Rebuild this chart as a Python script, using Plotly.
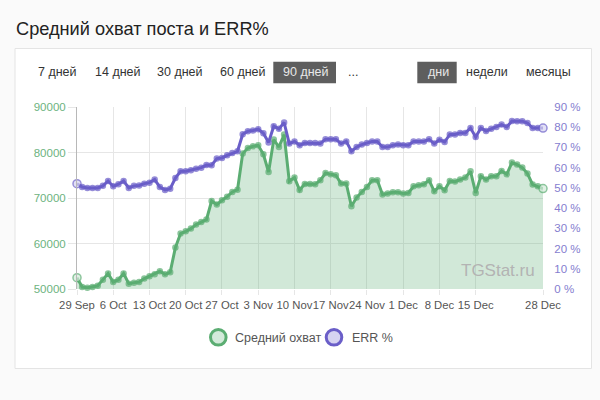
import pandas as pd
import plotly.graph_objects as go

# ---------------- data ----------------
dates = pd.date_range("2023-09-29", "2023-12-28", freq="D")

reach = [
    52500, 50440, 50300, 50440, 50700, 52060, 53400, 51540, 52050, 53400,
    51180, 51400, 51550, 52290, 52800, 53230, 53890, 53230, 53700, 59100,
    62180, 62680, 63270, 64150, 64730, 65250, 69340, 68550, 69500, 70300,
    71320, 71840, 79760, 81000, 81360, 81580, 79600, 75710, 82830, 81200,
    83930, 73670, 74480, 71740, 73100, 73100, 73000, 73890, 75490, 75200,
    75000, 73160, 73200, 68180, 70090, 71320, 72420, 73890, 73890, 70750,
    70970, 71250, 71250, 70970, 71100, 72570, 72790, 73010, 73890, 71470,
    72570, 71690, 73740, 73600, 74040, 74480, 75870, 71100, 74770, 74040,
    74770, 74770, 75930, 75200, 77780, 77340, 76680, 75360, 72940, 72570,
    72070,
]

err = [
    52.1, 50.4, 50.0, 50.0, 50.0, 51.0, 53.4, 50.8, 51.8, 53.4,
    50.0, 51.0, 51.2, 52.1, 52.6, 54.1, 50.4, 49.0, 49.6, 54.9,
    58.2, 58.2, 58.7, 59.5, 60.0, 61.3, 61.2, 64.5, 64.8, 66.1,
    67.3, 68.1, 76.5, 78.0, 78.4, 79.0, 77.0, 72.5, 80.5, 79.2,
    82.3, 71.9, 73.0, 71.1, 72.2, 72.2, 72.2, 72.0, 74.0, 74.0,
    74.0, 71.9, 73.0, 68.1, 70.2, 71.4, 72.2, 73.0, 73.0, 70.2,
    70.2, 71.1, 71.4, 71.1, 71.1, 73.0, 73.0, 73.0, 74.0, 71.9,
    73.8, 72.7, 76.4, 76.4, 77.2, 77.2, 79.6, 75.2, 79.6, 78.1,
    79.2, 80.1, 81.3, 80.1, 83.1, 83.0, 83.0, 82.1, 79.6, 79.6,
    79.6,
]

x_tickvals = ["2023-09-29", "2023-10-06", "2023-10-13", "2023-10-20", "2023-10-27",
              "2023-11-03", "2023-11-10", "2023-11-17", "2023-11-24", "2023-12-01",
              "2023-12-08", "2023-12-15", "2023-12-28"]
x_ticktext = ["29 Sep", "6 Oct", "13 Oct", "20 Oct", "27 Oct", "3 Nov", "10 Nov",
              "17 Nov", "24 Nov", "1 Dec", "8 Dec", "15 Dec", "28 Dec"]

title_text = "Средний охват поста и ERR%"
period_buttons = ["7 дней", "14 дней", "30 дней", "60 дней", "90 дней", "..."]
group_buttons = ["дни", "недели", "месяцы"]
series_names = ["Средний охват", "ERR %"]
watermark = "TGStat.ru"

# ---------------- style ----------------
FONT = "Liberation Sans, Arial, Helvetica, sans-serif"
GREEN = "#5bad72"
GREEN_FILL = "rgba(91,173,114,0.28)"
GREEN_LIGHT = "#d3eada"
PURPLE = "#6a5ec8"
PURPLE_LIGHT = "#d6d3f1"

W, H = 600, 400
ML, MR, MT, MB = 77, 57, 107, 111
PW, PH = W - ML - MR, H - MT - MB


def px(x):
    return (x - ML) / PW


def py(y):
    return (H - MB - y) / PH


n = len(dates)
g_sizes = [8] + [5] * (n - 2) + [8]
g_cols = [GREEN_LIGHT] + [GREEN] * (n - 2) + [GREEN_LIGHT]
p_cols = [PURPLE_LIGHT] + [PURPLE] * (n - 2) + [PURPLE_LIGHT]

fig = go.Figure()
fig.add_trace(go.Scatter(
    x=dates, y=reach, name=series_names[0], mode="lines+markers",
    line=dict(color=GREEN, width=3), fill="tozeroy", fillcolor=GREEN_FILL,
    marker=dict(size=g_sizes, color=g_cols, line=dict(color=GREEN, width=1.5)),
    cliponaxis=False, showlegend=False, yaxis="y"))
fig.add_trace(go.Scatter(
    x=dates, y=err, name=series_names[1], mode="lines+markers",
    line=dict(color=PURPLE, width=3),
    marker=dict(size=g_sizes, color=p_cols, line=dict(color=PURPLE, width=1.5)),
    cliponaxis=False, showlegend=False, yaxis="y2"))

shapes = []
annotations = []

# card
shapes.append(dict(type="rect", xref="paper", yref="paper", layer="below",
                   x0=px(15), x1=px(591.5), y0=py(48.5), y1=py(368.5),
                   fillcolor="white", line=dict(color="#e4e4e4", width=1)))

# title
annotations.append(dict(text=title_text, xref="paper", yref="paper", x=px(14), y=py(28.5),
                        xanchor="left", yanchor="middle", showarrow=False,
                        font=dict(family=FONT, size=18.2, color="#222")))

# period buttons
btn_x = [36, 92.7, 155, 218, 281, 346]
for label, bx in zip(period_buttons, btn_x):
    active = label == "90 дней"
    if active:
        shapes.append(dict(type="rect", xref="paper", yref="paper",
                           x0=px(273.3), x1=px(336), y0=py(61.7), y1=py(83.3),
                           fillcolor="#5e5e5e", line=dict(width=0)))
    annotations.append(dict(text=label, xref="paper", yref="paper", x=px(bx), y=py(72),
                            xanchor="left", yanchor="middle", showarrow=False,
                            font=dict(family=FONT, size=12.5,
                                      color="#e8e8e8" if active else "#333")))

grp_x = [425.5, 464, 524]
for label, bx in zip(group_buttons, grp_x):
    active = label == "дни"
    if active:
        shapes.append(dict(type="rect", xref="paper", yref="paper",
                           x0=px(417.3), x1=px(456.7), y0=py(61.7), y1=py(83.3),
                           fillcolor="#5e5e5e", line=dict(width=0)))
    annotations.append(dict(text=label, xref="paper", yref="paper", x=px(bx), y=py(72),
                            xanchor="left", yanchor="middle", showarrow=False,
                            font=dict(family=FONT, size=12.5,
                                      color="#e8e8e8" if active else "#333")))

# watermark
annotations.append(dict(text=watermark, xref="paper", yref="paper", x=px(537), y=py(270),
                        xanchor="right", yanchor="middle", showarrow=False,
                        font=dict(family=FONT, size=17, color="#b3b3b3")))

# legend
leg = [(218.3, series_names[0], GREEN, GREEN_LIGHT, 233),
       (334, series_names[1], PURPLE, PURPLE_LIGHT, 350)]
for cx, label, col, fillc, tx in leg:
    r = 7.8
    shapes.append(dict(type="circle", xref="paper", yref="paper",
                       x0=px(cx - r), x1=px(cx + r), y0=py(337.3 + r), y1=py(337.3 - r),
                       fillcolor=fillc, line=dict(color=col, width=3)))
    annotations.append(dict(text=label, xref="paper", yref="paper", x=px(tx), y=py(337.5),
                            xanchor="left", yanchor="middle", showarrow=False,
                            font=dict(family=FONT, size=12.5, color="#555")))

fig.update_layout(
    width=W, height=H, margin=dict(l=ML, r=MR, t=MT, b=MB),
    paper_bgcolor="#fafafa", plot_bgcolor="white",
    font=dict(family=FONT, size=12, color="#555"),
    showlegend=False, hovermode=False,
    shapes=shapes, annotations=annotations,
    xaxis=dict(type="date", range=["2023-09-29", "2023-12-28"],
               tickvals=x_tickvals, ticktext=x_ticktext, tickangle=0,
               showgrid=True, gridcolor="#e6e6e6", gridwidth=1,
               ticks="outside", ticklen=5, tickcolor="#e6e6e6",
               tickfont=dict(size=11.3, color="#555"),
               showline=False, zeroline=False),
    yaxis=dict(range=[50000, 90000], dtick=10000, tick0=50000, tickformat="d",
               showgrid=True, gridcolor="#e6e6e6", gridwidth=1,
               ticks="outside", ticklen=8, tickcolor="#e6e6e6",
               tickfont=dict(size=11.5, color="#6db380"),
               showline=True, linecolor="#b8b8b8", linewidth=1,
               zeroline=False),
    yaxis2=dict(range=[0, 90], dtick=10, tick0=0, overlaying="y", side="right",
                showgrid=False, zeroline=False, ticksuffix=" %",
                ticks="outside", ticklen=8, tickcolor="rgba(0,0,0,0)",
                tickfont=dict(size=11.5, color="#857dcf")),
)

fig.write_html("out.html")
